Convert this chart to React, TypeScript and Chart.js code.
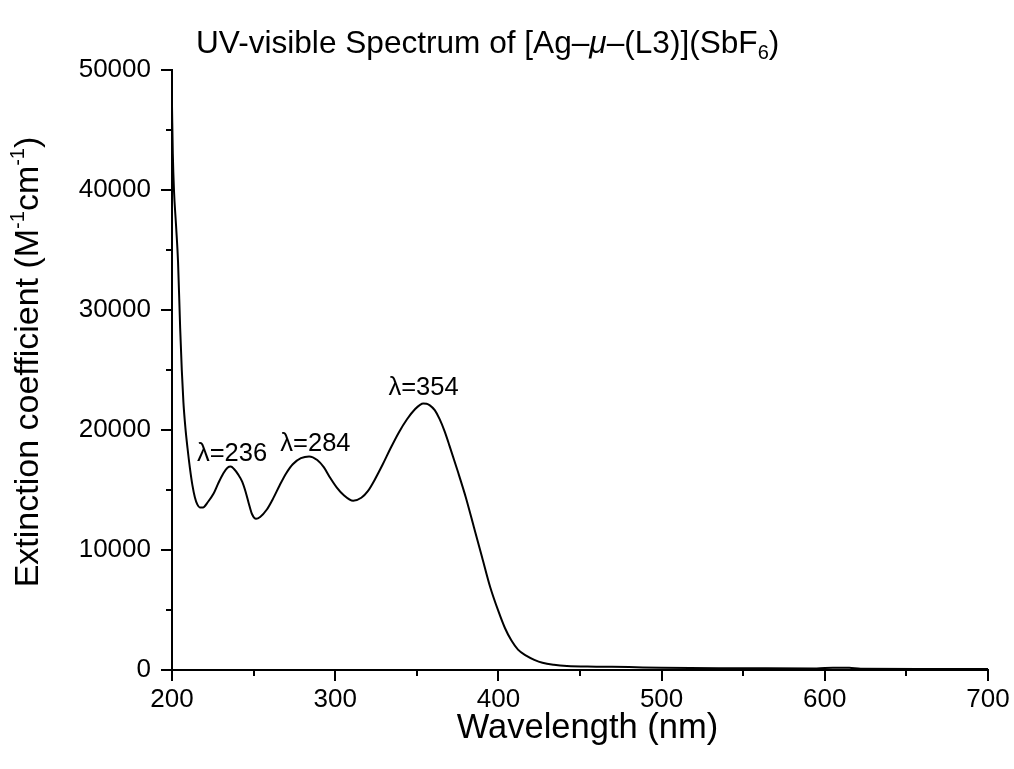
import React, { useEffect, useRef } from "react";
import { Chart, registerables } from "chart.js";

Chart.register(...registerables);

const wavelengths = [
  200, 200.5, 201.2, 202.5, 203.7, 205, 206, 207, 208.2, 209.5, 211, 212.5, 214, 215.5, 217, 219, 222, 225.5,
  228.5, 231.5, 234, 236, 238, 240.5, 243, 245, 247, 249, 251.5, 254, 258, 262, 266, 270, 274, 279, 284, 289,
  293, 297, 301, 305, 311, 316, 320, 324, 329, 334, 339, 344, 349, 352, 354, 356, 358, 361, 364, 367, 370, 375,
  380, 385, 390, 395, 400, 404, 408, 412, 417, 422, 427, 434, 442, 460, 480, 500, 550, 595, 605, 615, 622, 660,
  700,
];
const extinction = [
  47000, 43000, 40000, 37000, 34000, 28500, 25000, 22300, 20200, 18500, 16800, 15400, 14400, 13800, 13550, 13550,
  14000, 14700, 15600, 16400, 16850, 16950, 16750, 16300, 15700, 14900, 13900, 13000, 12600, 12750, 13350, 14300,
  15400, 16400, 17150, 17650, 17800, 17500, 16900, 16000, 15200, 14600, 14100, 14350, 14900, 15800, 17100, 18500,
  19800, 20900, 21750, 22100, 22200, 22180, 22050, 21650, 20900, 19900, 18700, 16600, 14400, 11900, 9400, 6900,
  4900, 3500, 2450, 1700, 1200, 850, 600, 430, 330, 280, 240, 180, 150, 130, 190, 180, 100, 90, 80,
];

const xMinorTicks = [250, 350, 450, 550, 650];
const yMinorTicks = [5000, 15000, 25000, 35000, 45000];

const peakLabels = ["λ=236", "λ=284", "λ=354"];
const peakLabelX = [236.8, 287.9, 354.1];
const peakLabelY = [17400, 18250, 22900];

const FONT = "'Liberation Sans', Arial, sans-serif";

const textPlugin = {
  id: "customText",
  afterDraw(chart: any) {
    const ctx = chart.ctx as CanvasRenderingContext2D;
    const xs = chart.scales.x;
    const ys = chart.scales.y;
    const area = chart.chartArea;
    ctx.save();
    // minor ticks
    ctx.strokeStyle = "#000";
    ctx.lineWidth = 2;
    ctx.beginPath();
    for (const v of xMinorTicks) {
      const px = Math.round(xs.getPixelForValue(v));
      ctx.moveTo(px, area.bottom);
      ctx.lineTo(px, area.bottom + 6);
    }
    for (const v of yMinorTicks) {
      const py = Math.round(ys.getPixelForValue(v));
      ctx.moveTo(area.left, py);
      ctx.lineTo(area.left - 6, py);
    }
    ctx.stroke();

    ctx.fillStyle = "#000";
    // peak labels
    ctx.font = `25.5px ${FONT}`;
    ctx.textAlign = "center";
    ctx.textBaseline = "alphabetic";
    peakLabels.forEach((t, i) => {
      ctx.fillText(t, xs.getPixelForValue(peakLabelX[i]), ys.getPixelForValue(peakLabelY[i]));
    });

    const drawSegs = (segs: { t: string; f: string; dy?: number }[], x: number, y: number, align: "left" | "center") => {
      let total = 0;
      for (const s of segs) {
        ctx.font = s.f;
        total += ctx.measureText(s.t).width;
      }
      let cx = align === "center" ? x - total / 2 : x;
      ctx.textAlign = "left";
      for (const s of segs) {
        ctx.font = s.f;
        ctx.fillText(s.t, cx, y + (s.dy || 0));
        cx += ctx.measureText(s.t).width;
      }
    };

    // title
    const tf = `31.6px ${FONT}`;
    const tfi = `italic 31.6px ${FONT}`;
    const tfs = `20px ${FONT}`;
    drawSegs(
      [
        { t: "UV-visible Spectrum of [Ag", f: tf },
        { t: "–", f: tf },
        { t: "μ", f: tfi },
        { t: "–", f: tf },
        { t: "(L3)](SbF", f: tf },
        { t: "6", f: tfs, dy: 6 },
        { t: ")", f: tf },
      ],
      196,
      53,
      "left"
    );

    // x axis title
    drawSegs([{ t: "Wavelength (nm)", f: `34.5px ${FONT}` }], 587.5, 738, "center");

    // y axis title
    ctx.save();
    ctx.translate(38, 362);
    ctx.rotate(-Math.PI / 2);
    const af = `34px ${FONT}`;
    const as = `20px ${FONT}`;
    drawSegs(
      [
        { t: "Extinction coefficient (M", f: af },
        { t: "-1", f: as, dy: -14 },
        { t: "cm", f: af },
        { t: "-1", f: as, dy: -14 },
        { t: ")", f: af },
      ],
      0,
      0,
      "center"
    );
    ctx.restore();
    ctx.restore();
  },
};

export default function App() {
  const ref = useRef<HTMLCanvasElement | null>(null);
  useEffect(() => {
    if (!ref.current) return;
    const chart = new Chart(ref.current, {
      type: "line",
      data: {
        datasets: [
          {
            data: wavelengths.map((w, i) => ({ x: w, y: extinction[i] })),
            borderColor: "#000",
            borderWidth: 2,
            pointRadius: 0,
            cubicInterpolationMode: "monotone",
            fill: false,
          },
        ],
      },
      options: {
        animation: false,
        responsive: false,
        layout: { padding: { top: 70, right: 26, left: 0, bottom: 0 } },
        plugins: { legend: { display: false }, tooltip: { enabled: false }, title: { display: false } },
        scales: {
          x: {
            type: "linear",
            min: 200,
            max: 700,
            afterFit: (s: any) => {
              s.height = 99;
            },
            ticks: {
              stepSize: 100,
              color: "#000",
              font: { family: FONT, size: 26 },
              padding: 3,
              maxRotation: 0,
              callback: (v: any) => String(v),
            },
            grid: { drawOnChartArea: false, drawTicks: true, tickLength: 11, color: "#000", lineWidth: 2 },
            border: { display: true, color: "#000", width: 2 },
          },
          y: {
            type: "linear",
            min: 0,
            max: 50000,
            afterFit: (s: any) => {
              s.width = 172;
            },
            ticks: {
              stepSize: 10000,
              color: "#000",
              font: { family: FONT, size: 26 },
              padding: 10,
              callback: (v: any) => String(v),
            },
            grid: { drawOnChartArea: false, drawTicks: true, tickLength: 11, color: "#000", lineWidth: 2 },
            border: { display: true, color: "#000", width: 2 },
          },
        },
      },
      plugins: [textPlugin],
    } as any);
    return () => chart.destroy();
  }, []);
  return (
    <div style={{ position: "fixed", left: 0, top: 0, width: 1014, height: 769, background: "#fff" }}>
      <canvas ref={ref} width={1014} height={769} style={{ width: 1014, height: 769 }} />
    </div>
  );
}
